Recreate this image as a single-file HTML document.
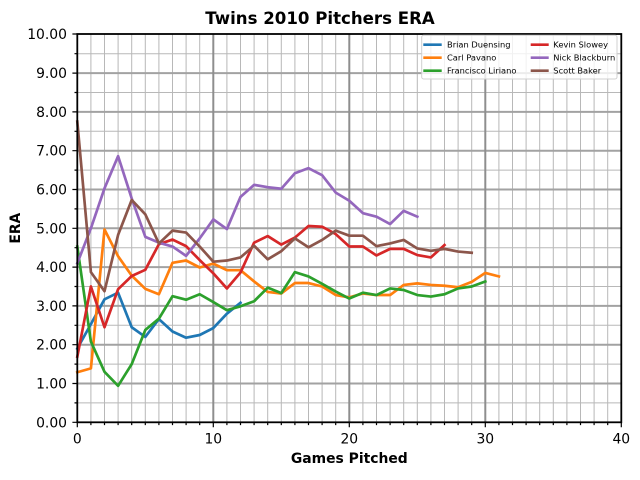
<!DOCTYPE html>
<html><head><meta charset="utf-8"><style>
html,body{margin:0;padding:0;background:#fff;}
svg{display:block;}
text{font-family:"DejaVu Sans","Liberation Sans",sans-serif;fill:#000;}
</style></head><body>
<svg width="640" height="480" viewBox="0 0 640 480" xmlns="http://www.w3.org/2000/svg">
<rect x="0" y="0" width="640" height="480" fill="#fff"/>
<!-- minor grid -->
<g stroke="#b8b8b8" stroke-width="1" fill="none">
<path d="M90.9 34V422.3M104.5 34V422.3M118.1 34V422.3M131.7 34V422.3M145.3 34V422.3M158.9 34V422.3M172.5 34V422.3M186.1 34V422.3M199.7 34V422.3M226.9 34V422.3M240.5 34V422.3M254.1 34V422.3M267.7 34V422.3M281.3 34V422.3M294.9 34V422.3M308.5 34V422.3M322.1 34V422.3M335.7 34V422.3M362.9 34V422.3M376.5 34V422.3M390.1 34V422.3M403.7 34V422.3M417.3 34V422.3M430.9 34V422.3M444.5 34V422.3M458.1 34V422.3M471.7 34V422.3M498.9 34V422.3M512.5 34V422.3M526.1 34V422.3M539.7 34V422.3M553.3 34V422.3M566.9 34V422.3M580.5 34V422.3M594.1 34V422.3M607.7 34V422.3"/>
<path d="M77.3 402.9H621.3M77.3 364.1H621.3M77.3 325.3H621.3M77.3 286.5H621.3M77.3 247.7H621.3M77.3 208.9H621.3M77.3 170.1H621.3M77.3 131.3H621.3M77.3 92.5H621.3M77.3 53.7H621.3"/>
</g>
<!-- major grid -->
<g stroke-width="2" fill="none">
<path stroke="#a2a2a2" d="M77.3 383.5H621.3M77.3 344.7H621.3M77.3 305.9H621.3M77.3 267.1H621.3M77.3 228.3H621.3M77.3 189.5H621.3M77.3 150.7H621.3M77.3 111.9H621.3M77.3 73.1H621.3"/>
<path stroke="#8e8e8e" d="M213.3 34V422.3M349.3 34V422.3M485.3 34V422.3"/>
</g>
<!-- series -->
<g transform="translate(77.3,422.3) scale(13.6,-38.8)" fill="none" stroke-width="2.7" stroke-linejoin="round" stroke-linecap="square">
<polyline vector-effect="non-scaling-stroke" stroke="#1f77b4" points="0,1.90 1,2.53 2,3.17 3,3.34 4,2.45 5,2.20 6,2.66 7,2.34 8,2.18 9,2.25 10,2.43 11,2.80 12,3.08"/>
<polyline vector-effect="non-scaling-stroke" stroke="#ff7f0e" points="0,1.29 1,1.39 2,4.97 3,4.28 4,3.78 5,3.44 6,3.30 7,4.11 8,4.17 9,3.99 10,4.09 11,3.92 12,3.92 13,3.63 14,3.36 15,3.32 16,3.59 17,3.59 18,3.50 19,3.28 20,3.22 21,3.32 22,3.28 23,3.28 24,3.54 25,3.58 26,3.54 27,3.52 28,3.48 29,3.62 30,3.85 31,3.76"/>
<polyline vector-effect="non-scaling-stroke" stroke="#2ca02c" points="0,4.53 1,2.08 2,1.30 3,0.94 4,1.50 5,2.38 6,2.67 7,3.25 8,3.16 9,3.30 10,3.10 11,2.89 12,2.99 13,3.12 14,3.47 15,3.33 16,3.87 17,3.76 18,3.57 19,3.37 20,3.19 21,3.34 22,3.28 23,3.45 24,3.41 25,3.28 26,3.24 27,3.30 28,3.45 29,3.50 30,3.63"/>
<polyline vector-effect="non-scaling-stroke" stroke="#d62728" points="0,1.69 1,3.50 2,2.45 3,3.43 4,3.77 5,3.93 6,4.59 7,4.71 8,4.54 9,4.18 10,3.84 11,3.45 12,3.86 13,4.63 14,4.80 15,4.58 16,4.76 17,5.06 18,5.04 19,4.85 20,4.53 21,4.53 22,4.30 23,4.47 24,4.47 25,4.31 26,4.25 27,4.57"/>
<polyline vector-effect="non-scaling-stroke" stroke="#9467bd" points="0,4.10 1,5.00 2,6.03 3,6.86 4,5.77 5,4.78 6,4.63 7,4.53 8,4.29 9,4.74 10,5.23 11,4.98 12,5.81 13,6.12 14,6.06 15,6.02 16,6.42 17,6.55 18,6.37 19,5.92 20,5.71 21,5.39 22,5.30 23,5.11 24,5.45 25,5.30"/>
<polyline vector-effect="non-scaling-stroke" stroke="#8c564b" points="0,7.75 1,3.87 2,3.38 3,4.83 4,5.73 5,5.36 6,4.61 7,4.94 8,4.89 9,4.53 10,4.14 11,4.17 12,4.25 13,4.55 14,4.20 15,4.41 16,4.74 17,4.51 18,4.70 19,4.94 20,4.81 21,4.81 22,4.54 23,4.61 24,4.70 25,4.48 26,4.42 27,4.47 28,4.40 29,4.37"/>
</g>
<!-- spines -->
<rect x="77.3" y="34" width="544" height="388.3" fill="none" stroke="#000" stroke-width="1.8"/>
<!-- ticks -->
<g stroke="#000" stroke-width="1.2" fill="none">
<path d="M72.4 422.3H77.3M72.4 383.5H77.3M72.4 344.7H77.3M72.4 305.9H77.3M72.4 267.1H77.3M72.4 228.3H77.3M72.4 189.5H77.3M72.4 150.7H77.3M72.4 111.9H77.3M72.4 73.1H77.3M72.4 34H77.3"/>
<path d="M74.5 402.9H77.3M74.5 364.1H77.3M74.5 325.3H77.3M74.5 286.5H77.3M74.5 247.7H77.3M74.5 208.9H77.3M74.5 170.1H77.3M74.5 131.3H77.3M74.5 92.5H77.3M74.5 53.7H77.3"/>
<path d="M77.3 422.3V427.2M213.3 422.3V427.2M349.3 422.3V427.2M485.3 422.3V427.2M621.3 422.3V427.2"/>
<path d="M90.9 422.3V425.1M104.5 422.3V425.1M118.1 422.3V425.1M131.7 422.3V425.1M145.3 422.3V425.1M158.9 422.3V425.1M172.5 422.3V425.1M186.1 422.3V425.1M199.7 422.3V425.1M226.9 422.3V425.1M240.5 422.3V425.1M254.1 422.3V425.1M267.7 422.3V425.1M281.3 422.3V425.1M294.9 422.3V425.1M308.5 422.3V425.1M322.1 422.3V425.1M335.7 422.3V425.1M362.9 422.3V425.1M376.5 422.3V425.1M390.1 422.3V425.1M403.7 422.3V425.1M417.3 422.3V425.1M430.9 422.3V425.1M444.5 422.3V425.1M458.1 422.3V425.1M471.7 422.3V425.1M498.9 422.3V425.1M512.5 422.3V425.1M526.1 422.3V425.1M539.7 422.3V425.1M553.3 422.3V425.1M566.9 422.3V425.1M580.5 422.3V425.1M594.1 422.3V425.1M607.7 422.3V425.1"/>
</g>
<!-- y tick labels -->
<g font-size="13.9" text-anchor="end">
<text x="67" y="427.3">0.00</text>
<text x="67" y="388.5">1.00</text>
<text x="67" y="349.7">2.00</text>
<text x="67" y="310.9">3.00</text>
<text x="67" y="272.1">4.00</text>
<text x="67" y="233.3">5.00</text>
<text x="67" y="194.5">6.00</text>
<text x="67" y="155.7">7.00</text>
<text x="67" y="116.9">8.00</text>
<text x="67" y="78.1">9.00</text>
<text x="67" y="39">10.00</text>
</g>
<!-- x tick labels -->
<g font-size="13.9" text-anchor="middle">
<text x="77.3" y="443.3">0</text>
<text x="213.3" y="443.3">10</text>
<text x="349.3" y="443.3">20</text>
<text x="485.3" y="443.3">30</text>
<text x="621.3" y="443.3">40</text>
</g>
<!-- axis labels & title -->
<text x="349.3" y="463" font-size="13.9" font-weight="bold" text-anchor="middle">Games Pitched</text>
<text transform="translate(20,228.2) rotate(-90)" font-size="13.9" font-weight="bold" text-anchor="middle">ERA</text>
<text x="320" y="24" font-size="16.6" font-weight="bold" text-anchor="middle">Twins 2010 Pitchers ERA</text>
<!-- legend -->
<rect x="421.7" y="35.3" width="195.3" height="43.7" rx="2" ry="2" fill="#fff" fill-opacity="0.8" stroke="#d0d0d0" stroke-width="1"/>
<g stroke-width="2.7" fill="none">
<path d="M423.3 44.7H441.7" stroke="#1f77b4"/>
<path d="M423.3 57.7H441.7" stroke="#ff7f0e"/>
<path d="M423.3 70.7H441.7" stroke="#2ca02c"/>
<path d="M530.7 44.7H548.7" stroke="#d62728"/>
<path d="M530.7 57.7H548.7" stroke="#9467bd"/>
<path d="M530.7 70.7H548.7" stroke="#8c564b"/>
</g>
<g font-size="8.3">
<text x="447" y="47.7">Brian Duensing</text>
<text x="447" y="60.7">Carl Pavano</text>
<text x="447" y="73.7">Francisco Liriano</text>
<text x="553.3" y="47.7">Kevin Slowey</text>
<text x="553.3" y="60.7">Nick Blackburn</text>
<text x="553.3" y="73.7">Scott Baker</text>
</g>
</svg>
</body></html>
